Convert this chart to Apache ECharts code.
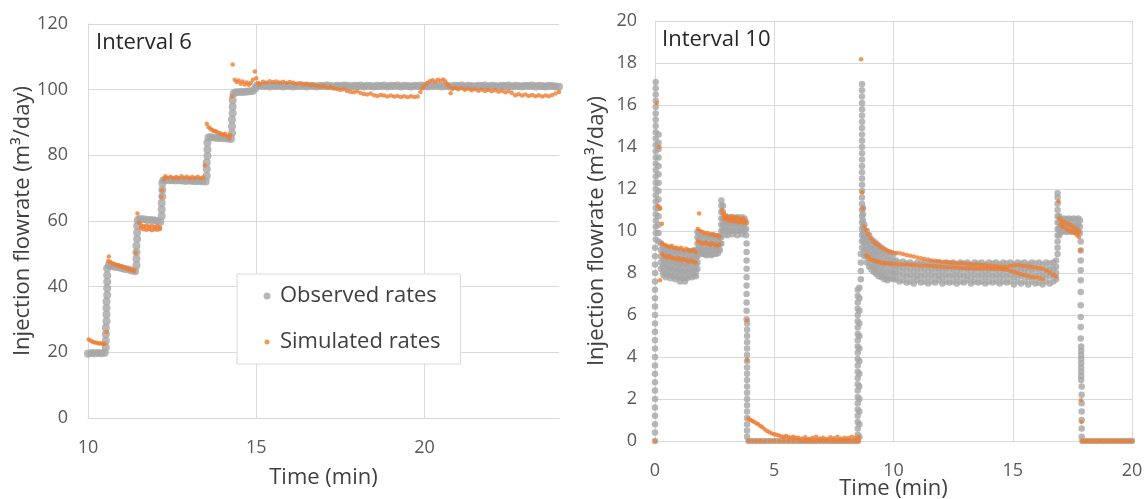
<!DOCTYPE html>
<html><head><meta charset="utf-8">
<script src="https://cdn.jsdelivr.net/npm/echarts@6/dist/echarts.min.js"></script>
<style>html,body{margin:0;padding:0;background:#fff}#c{width:1146px;height:499px}</style>
</head><body><div id="c"></div>
<script>
// Rows: [time, value, value, ...] -> each value is one plotted point at that time.
const titles = ['Interval 6', 'Interval 10'];
const legendNames = ['Observed rates', 'Simulated rates'];
const xTitle = 'Time (min)';
const yTitle = 'Injection flowrate (m³/day)';

// Interval 6 – observed
const obs6 = [
[10.0,19.6],[10.1,19.8],[10.2,19.7],[10.3,19.8],[10.4,19.7],[10.5,19.9],
[10.53,21.5,23.5,25.5,27.5],[10.55,29.5,31.5,33.5,35.5],[10.57,37.5,39.5,41.5,43.5,45.5],
[10.62,46.5],[10.7,46.3],[10.8,46.1],[10.9,45.9],[11.0,45.7],[11.1,45.4],[11.2,45.2],[11.3,44.9],[11.4,44.7],
[11.44,46.5,48.5,50.5,52.5],[11.46,54.5,56.5,58.5],[11.48,60.3],
[11.55,60.6],[11.65,60.5],[11.75,60.4],[11.85,60.3],[11.95,60.2],[12.05,60.0],[12.15,59.7],
[12.19,61.5,63.5,65.5],[12.21,67.5,69.5,71.5],[12.24,72.4],
[12.3,72.5],[12.4,72.4],[12.5,72.4],[12.6,72.3],[12.7,72.4],[12.8,72.3],[12.9,72.2],[13.0,72.3],[13.1,72.2],[13.2,72.1],[13.3,72.2],[13.4,72.1],[13.5,72.0],
[13.53,73.8,75.8,77.8],[13.55,79.8,81.8,83.8],[13.58,85.4],
[13.65,85.5],[13.75,85.4],[13.85,85.3],[13.95,85.3],[14.05,85.2],[14.15,85.1],[14.25,85.0],
[14.28,86.8,88.8,90.8],[14.3,92.8,94.8,96.8],[14.33,98.8],
[14.4,99.2],[14.5,99.3],[14.6,99.3],[14.7,99.4],[14.8,99.5],[14.9,99.6],[14.97,100.4],[15.02,101.2],
[15.1,101.3],[15.2,101.1],[15.3,101.2],[15.4,101.0],[15.5,101.2],[15.6,101.1],[15.7,101.3],[15.8,101.0],[15.9,101.2],[16.0,101.1],
[16.1,101.0],[16.2,101.2],[16.3,101.1],[16.4,101.3],[16.5,101.0],[16.6,101.2],[16.7,101.1],[16.8,101.0],[16.9,101.2],[17.0,101.1],
[17.1,101.3],[17.2,101.1],[17.3,101.0],[17.4,101.2],[17.5,101.1],[17.6,101.3],[17.7,101.2],[17.8,101.0],[17.9,101.2],[18.0,101.1],
[18.1,101.3],[18.2,101.0],[18.3,101.2],[18.4,101.1],[18.5,101.0],[18.6,101.2],[18.7,101.1],[18.8,101.3],[18.9,101.0],[19.0,101.2],
[19.1,101.1],[19.2,101.3],[19.3,101.0],[19.4,101.2],[19.5,101.1],[19.6,101.0],[19.7,101.2],[19.8,101.1],[19.9,101.3],[20.0,101.1],
[20.1,101.0],[20.2,101.2],[20.3,101.1],[20.4,101.3],[20.5,101.0],[20.6,101.2],[20.7,101.1],[20.8,101.0],[20.9,101.2],[21.0,101.1],
[21.1,101.3],[21.2,101.0],[21.3,101.2],[21.4,101.1],[21.5,101.0],[21.6,101.2],[21.7,101.1],[21.8,101.3],[21.9,101.0],[22.0,101.2],
[22.1,101.1],[22.2,101.0],[22.3,101.2],[22.4,101.1],[22.5,101.3],[22.6,101.0],[22.7,101.2],[22.8,101.1],[22.9,101.0],[23.0,101.2],
[23.1,101.1],[23.2,101.3],[23.3,101.0],[23.4,101.2],[23.5,101.1],[23.6,101.0],[23.7,101.2],[23.8,101.1],[23.9,101.0],[24.0,100.9]
];

// Interval 6 – simulated
const sim6 = [
[10.02,23.9],[10.08,23.5],[10.14,23.2],[10.2,23.0],[10.26,22.9],[10.32,22.7],[10.38,22.8],[10.44,22.5],[10.5,22.6],[10.55,26.2],
[10.6,47.8],[10.62,49.2],[10.66,47.5],[10.72,47.1],[10.78,46.9],[10.84,46.6],[10.9,46.5],[10.96,46.2],[11.02,46.0],[11.08,45.8],
[11.14,45.6],[11.2,45.4],[11.26,45.2],[11.32,45.0],[11.38,44.8],[11.42,50.3],[11.47,62.3],
[11.52,59.5],[11.58,58.7,57.8],[11.66,58.4,57.5],[11.74,58.6,57.3],[11.82,58.3,57.6],[11.9,58.5,57.2],[11.98,58.2,57.5],[12.06,58.4,57.3],[12.14,58.0,57.6],
[12.18,67.4],[12.2,69.4],
[12.26,72.8],[12.3,73.6],[12.38,73.2],[12.46,73.5],[12.54,73.0],[12.62,73.4],[12.7,73.1],[12.78,73.6],[12.86,73.2],[12.94,73.5],
[13.02,73.0],[13.1,73.4],[13.18,73.1],[13.26,73.5],[13.34,73.0],[13.42,73.3],[13.47,77.0],
[13.53,89.6],[13.58,88.6],[13.63,88.2],[13.68,87.8],[13.73,87.5],[13.78,87.4],[13.84,87.0],[13.9,86.8],[13.96,86.6],[14.02,86.3],
[14.08,86.6],[14.14,85.8],[14.2,85.3],[14.23,86.2],
[14.27,97.9],[14.3,107.7],
[14.36,103.0],[14.42,102.3],[14.48,102.8],[14.54,101.8],[14.6,102.5],[14.66,101.6],[14.72,102.2],[14.78,101.5],[14.84,102.0],[14.9,103.0],[14.96,105.5],[15.0,103.5],
[15.05,102.0],[15.1,101.6],[15.2,102.4],[15.3,102.2],[15.4,102.6],[15.5,102.3],[15.6,102.5],[15.7,102.2],[15.8,102.4],[15.9,102.0],
[16.0,102.3],[16.1,102.1],[16.2,101.8],[16.3,102.0],[16.4,101.6],[16.5,101.8],[16.6,101.4],[16.7,101.5],[16.8,101.2],[16.9,100.9],
[17.0,101.1],[17.1,100.6],[17.2,100.8],[17.3,100.4],[17.4,100.2],[17.5,99.9],[17.6,100.1],[17.7,99.6],[17.8,99.4],[17.9,99.2],
[18.0,99.5],[18.1,99.0],[18.2,98.7],[18.3,98.5],[18.4,98.8],[18.5,98.3],[18.6,98.1],[18.7,98.4],[18.8,98.2],[18.9,97.9],
[19.0,98.2],[19.1,97.9],[19.2,98.1],[19.3,97.8],[19.4,98.0],[19.5,97.7],[19.6,98.0],[19.7,97.8],[19.8,97.9],[19.88,99.3],
[19.94,100.4],[20.0,101.3],[20.08,102.0],[20.16,102.6],[20.24,102.9],[20.32,102.5],[20.4,103.0],[20.48,102.7],[20.56,103.1],[20.62,102.5],
[20.68,101.6],[20.73,101.0],[20.78,98.9],[20.84,100.3],[20.92,100.6],[21.0,100.1],[21.1,100.4],[21.2,100.0],[21.3,100.3],[21.4,99.8],
[21.5,100.1],[21.6,99.7],[21.7,100.0],[21.8,99.6],[21.9,99.9],[22.0,99.5],[22.1,99.8],[22.2,99.4],[22.3,99.7],[22.4,99.2],
[22.5,99.5],[22.6,99.0],[22.7,98.3],[22.8,98.6],[22.9,98.2],[23.0,98.5],[23.1,98.1],[23.2,98.4],[23.3,98.0],[23.4,98.3],
[23.5,97.9],[23.6,98.2],[23.7,98.0],[23.8,98.4],[23.9,98.8],[24.0,99.3]
];

// Interval 10 – observed
const obs10 = [
[0,0,0.4,0.8,1.2,1.6,2.0,2.4,2.8,3.2,3.6,4.0,4.4,4.8,5.2,5.6,6.0,6.4,6.8,7.2,7.6,8.0,8.4,8.8,9.2],
[0.03,9.6,9.9,10.2,10.5,10.8,11.1,11.4,11.7,12.0,12.3,12.6,12.9,13.2,13.5,13.8,14.1,14.4,14.7,15.0,15.3,15.6,15.9,16.2,16.5,16.8,17.1],
[0.15,14.6,14.2,13.9,13.5,13.1,12.7,12.3,11.9,11.5,11.1,10.7,10.3,9.9,9.5],
[0.25,9.4,9.1,8.8,8.5,8.2],[0.35,9.25,8.95,8.65,8.35,8.05,7.9],[0.45,9.2,8.9,8.6,8.3,8.0,7.8],[0.55,9.1,8.8,8.5,8.2,7.9],
[0.65,9.15,8.85,8.55,8.25,7.95,7.75],[0.75,9.05,8.75,8.45,8.15,7.85],[0.85,9.1,8.8,8.5,8.2,7.9,7.7],[0.95,9.0,8.7,8.4,8.1,7.8],
[1.05,9.05,8.75,8.45,8.15,7.85,7.6],[1.15,8.95,8.65,8.35,8.05,7.75],[1.25,9.0,8.7,8.4,8.1,7.8,7.6],[1.35,8.95,8.65,8.35,8.05,7.75],
[1.45,9.05,8.75,8.45,8.15,7.85],[1.55,9.0,8.7,8.4,8.1,7.8],[1.65,9.1,8.8,8.5,8.2,7.9],[1.72,9.0,8.7,8.4,8.1,7.85],
[1.78,8.2,8.5,8.8,9.1,9.4,9.7,9.95],
[1.85,9.9,9.6,9.3,9.0],[1.95,9.75,9.45,9.15,8.9],[2.05,9.8,9.5,9.2,8.9],[2.15,9.7,9.4,9.1,8.85],[2.25,9.75,9.45,9.15,8.9],
[2.35,9.7,9.4,9.1,8.85],[2.45,9.8,9.5,9.2,8.9],[2.55,9.7,9.4,9.1,8.9],[2.65,9.75,9.45,9.15,8.95],[2.72,9.7,9.4,9.1],
[2.78,9.4,9.7,10.0,10.3,10.6,10.9,11.2,11.45],
[2.85,11.2,10.9,10.6,10.3,10.0],[2.95,10.7,10.4,10.1,9.85],[3.05,10.65,10.35,10.05,9.8],[3.15,10.6,10.3,10.0],[3.25,10.65,10.35,10.05,9.85],
[3.35,10.6,10.3,10.0],[3.45,10.65,10.35,10.05,9.8],[3.55,10.6,10.3,10.0],[3.65,10.65,10.35,10.05,9.85],[3.75,10.6,10.3,10.0],[3.82,10.4,10.1,9.8],
[3.84,9.4,9.0,8.6,8.2,7.8,7.4,7.0,6.6,6.2,5.8],
[3.86,5.6,5.3,5.0,4.7,4.4,4.1,3.8,3.5,3.2,2.9,2.6,2.3,2.0,1.7,1.4,1.1,0.8,0.5,0.2],
[3.92,0],[4.07,0],[4.22,0],[4.37,0],[4.52,0],[4.67,0],[4.82,0],[4.97,0],[5.12,0],[5.27,0],[5.42,0],[5.57,0],[5.72,0],[5.87,0],[6.02,0],[6.17,0],
[6.32,0],[6.47,0],[6.62,0],[6.77,0],[6.92,0],[7.07,0],[7.22,0],[7.37,0],[7.52,0],[7.67,0],[7.82,0],[7.97,0],[8.12,0],[8.27,0],[8.42,0],
[8.5,0,0.3,0.6,0.9,1.2,1.5,1.8,2.1,2.4,2.7,3.0,3.3,3.6,3.9,4.2,4.5,4.8,5.1,5.4,5.7,6.0,6.3,6.6,6.9,7.2],
[8.57,0.2,0.8,1.4,2.0,2.6,3.2,3.8,4.4,5.0,5.6,6.2,6.8,7.3],
[8.63,7.7,8.1,8.5,8.9],
[8.68,9.2,9.5,9.8,10.1,10.4,10.7,11.0,11.3,11.6,11.9,12.2,12.5,12.8,13.1,13.4,13.7,14.0,14.3,14.6,14.9,15.2,15.5,15.8,16.1,16.4,16.7,17.0],
[8.72,9.6,9.9,10.2,10.5,10.8,11.1],
[8.78,10.3,10.0,9.7,9.4,9.1,8.8],[8.88,10.0,9.7,9.4,9.1,8.8,8.5],[8.98,9.8,9.5,9.2,8.9,8.6,8.3],[9.08,9.6,9.3,9.0,8.7,8.4,8.15],
[9.18,9.5,9.2,8.9,8.6,8.3,8.05],[9.28,9.4,9.1,8.8,8.5,8.2,7.95],[9.38,9.3,9.0,8.7,8.4,8.1,7.85],[9.5,9.2,8.9,8.6,8.3,8.0,7.8],
[9.62,9.1,8.8,8.5,8.2,7.9,7.7],[9.75,9.0,8.7,8.4,8.1,7.8,7.65],[9.88,8.95,8.65,8.35,8.05,7.75],[10.0,8.9,8.6,8.3,8.0,7.7],
[10.1,8.6,8.3,8.0,7.7],[10.25,8.5,8.2,7.9,7.6],[10.4,8.55,8.25,7.95,7.65],[10.55,8.45,8.15,7.85,7.55],[10.7,8.5,8.2,7.9,7.6],
[10.85,8.4,8.1,7.8,7.5],[11.0,8.5,8.2,7.9,7.65],[11.15,8.45,8.15,7.85,7.55],[11.3,8.5,8.2,7.9,7.6],[11.45,8.4,8.1,7.8,7.5],
[11.6,8.5,8.2,7.9,7.6],[11.75,8.45,8.15,7.85,7.55],[11.9,8.5,8.2,7.9,7.65],[12.05,8.4,8.1,7.8,7.5],[12.2,8.5,8.2,7.9,7.6],
[12.35,8.45,8.15,7.85,7.55],[12.5,8.5,8.2,7.9,7.6],[12.65,8.4,8.1,7.8,7.5],[12.8,8.5,8.2,7.9,7.6],[12.95,8.45,8.15,7.85,7.55],
[13.1,8.5,8.2,7.9,7.65],[13.25,8.4,8.1,7.8,7.5],[13.4,8.5,8.2,7.9,7.6],[13.55,8.45,8.15,7.85,7.55],[13.7,8.5,8.2,7.9,7.6],
[13.85,8.4,8.1,7.8,7.5],[14.0,8.5,8.2,7.9,7.6],[14.15,8.45,8.15,7.85,7.55],[14.3,8.5,8.2,7.9,7.6],[14.45,8.4,8.1,7.8,7.5],
[14.6,8.5,8.2,7.9,7.6],[14.75,8.45,8.15,7.85,7.55],[14.9,8.5,8.2,7.9,7.6],[15.05,8.4,8.1,7.8,7.45],[15.2,8.5,8.2,7.9,7.6],
[15.35,8.45,8.15,7.85,7.5],[15.5,8.5,8.2,7.9,7.6],[15.65,8.4,8.1,7.8,7.45],[15.8,8.5,8.2,7.9,7.6],[15.95,8.45,8.15,7.85,7.5],
[16.1,8.5,8.2,7.9,7.55],[16.25,8.4,8.1,7.8,7.45],[16.4,8.5,8.2,7.9,7.6],[16.55,8.45,8.15,7.85,7.5],[16.7,8.5,8.2,7.9,7.6],[16.82,8.6,8.3,8.0,7.7],
[16.88,8.9,9.2,9.5,9.8,10.1,10.4,10.7,11.0,11.3,11.6,11.8],
[16.95,10.7,10.4,10.1,9.8],[17.05,10.55,10.25,9.95],[17.15,10.6,10.3,10.0],[17.25,10.55,10.25,9.95],[17.35,10.6,10.3,10.0],
[17.45,10.55,10.25,9.95],[17.55,10.6,10.3,10.0],[17.65,10.55,10.25,9.95],[17.75,10.6,10.3,10.0],[17.82,10.5,10.2,9.9],
[17.85,9.5,9.07,8.6,8.13,7.65,7.1,6.46,5.9,5.43,4.88],
[17.87,4.5,4.3,4.1,3.9,3.7,3.5,3.3,3.1,2.9],
[17.89,2.6,2.2,1.8,1.4,1.0,0.6,0.2],
[17.92,0],[18.07,0],[18.22,0],[18.37,0],[18.52,0],[18.67,0],[18.82,0],[18.97,0],[19.12,0],[19.27,0],[19.42,0],[19.57,0],[19.72,0],[19.87,0],[20.0,0]
];

// Interval 10 – simulated
const sim10 = [
[0,0],[0.07,16.1],[0.18,14.0],[0.12,11.2],[0.22,11.07],[0.29,10.35],[0.21,7.65],
[0.3,9.4,8.9],[0.4,9.35,8.8],[0.5,9.3,8.75],[0.6,9.25,8.8],[0.7,9.3,8.7],[0.8,9.2,8.7],[0.9,9.2,8.65],[1.0,9.15,8.7],
[1.1,9.2,8.6],[1.2,9.1,8.65],[1.3,9.15,8.6],[1.4,9.1,8.55],[1.5,9.05,8.6],[1.6,9.1,8.55],[1.7,9.0,8.5],
[1.8,10.1,9.5],[1.85,10.83],[1.9,10.0,9.45],[2.0,9.95,9.4],[2.1,9.9,9.45],[2.2,9.9,9.4],[2.3,9.85,9.35],[2.4,9.85,9.4],[2.5,9.8,9.35],[2.6,9.8,9.3],[2.7,9.75,9.35],
[2.8,11.0],[2.85,10.85],[2.9,10.75,10.6],[3.0,10.7,10.55],[3.1,10.65,10.5],[3.2,10.7,10.5],[3.3,10.6,10.45],[3.4,10.65,10.5],[3.5,10.6,10.4],[3.6,10.55,10.45],[3.7,10.6,10.4],[3.8,10.5,10.4],
[3.86,5.75,3.87],
[3.92,1.07,0],[4.0,1.0],[4.08,0.97,0],[4.16,0.9],[4.25,0.85,0],[4.33,0.8],[4.42,0.72,0],[4.5,0.65],[4.6,0.56,0],[4.7,0.48],
[4.8,0.42,0],[4.9,0.36],[5.0,0.32,0],[5.1,0.3],[5.2,0.26,0],[5.3,0.22],[5.4,0.2,0],[5.5,0.24],[5.6,0.18,0],[5.7,0.15],
[5.8,0.2,0],[5.9,0.14],[6.0,0.16,0],[6.15,0.12,0],[6.3,0.18,0],[6.45,0.1,0],[6.6,0.15,0],[6.75,0.2,0],[6.9,0.12,0],[7.05,0.16,0],
[7.2,0.1,0],[7.35,0.18,0],[7.5,0.13,0],[7.65,0.2,0],[7.8,0.12,0],[7.95,0.16,0],[8.1,0.14,0],[8.25,0.2,0],[8.4,0.15,0],[8.55,0.18,0],
[8.64,18.18],[8.68,11.83],[8.72,11.07],[8.78,10.2],
[8.85,10.05,8.85],[8.95,9.85,8.75],[9.05,9.65,8.65],[9.15,9.5,8.6],[9.25,9.42,8.56],[9.35,9.35,8.53],[9.45,9.25,8.5],[9.55,9.18,8.48],
[9.65,9.12,8.47],[9.75,9.06,8.46],[9.85,9.02,8.45],[9.95,8.98,8.44],[10.1,8.95,8.43],[10.25,8.94,8.42],[10.4,8.9,8.41],[10.55,8.86,8.4],
[10.7,8.82,8.39],[10.85,8.78,8.38],[11.0,8.74,8.37],[11.15,8.7,8.36],[11.3,8.67,8.35],[11.45,8.64,8.34],[11.6,8.6,8.33],[11.75,8.58,8.32],
[11.9,8.56,8.31],[12.05,8.54,8.3],[12.2,8.52,8.29],[12.35,8.5,8.28],[12.5,8.49,8.27],[12.65,8.47,8.26],[12.8,8.46,8.25],[12.95,8.45,8.24],
[13.1,8.44,8.24],[13.25,8.42,8.23],[13.4,8.41,8.23],[13.55,8.39,8.22],[13.7,8.38,8.22],[13.85,8.36,8.21],[14.0,8.35,8.21],[14.15,8.34,8.2],
[14.3,8.32,8.2],[14.45,8.31,8.19],[14.6,8.3,8.18],[14.75,8.3,8.15],[14.9,8.33,8.1],[15.05,8.36,8.05],[15.2,8.37,8.0],[15.35,8.35,7.95],
[15.5,8.33,7.9],[15.65,8.31,7.85],[15.8,8.29,7.8],[15.95,8.27,7.77],[16.1,8.24,7.74],[16.25,8.2,7.7],[16.4,8.12],[16.55,8.02],[16.7,7.92],[16.83,7.82],
[16.92,11.4],[16.95,10.6],[17.0,10.55,10.3],[17.1,10.45,10.2],[17.2,10.4,10.15],[17.3,10.35,10.05],[17.4,10.3,10.0],[17.5,10.2,9.95],
[17.6,10.15,9.9],[17.7,10.05,9.8],[17.78,9.95,9.72],[17.84,9.1],[17.86,1.94],[17.88,0.9],
[17.9,0],[18.0,0],[18.1,0],[18.2,0],[18.3,0],[18.4,0],[18.5,0],[18.6,0],[18.7,0],[18.8,0],[18.9,0],
[19.0,0],[19.1,0],[19.2,0],[19.3,0],[19.4,0],[19.5,0],[19.6,0],[19.7,0],[19.8,0],[19.9,0],[20.0,0]
];

function toPoints(rows) {
  const out = [];
  rows.forEach(r => { for (let i = 1; i < r.length; i++) out.push([r[0], r[i]]); });
  return out;
}

const FONT = "'Open Sans', 'DejaVu Sans', sans-serif";
const GRAY = '#a5a5a5', ORANGE = '#ed7d31', GRID = '#d9d9d9';
const tickLabel = { fontFamily: FONT, fontSize: 18, color: '#595959' };
const nameStyle = { fontFamily: FONT, fontSize: 22, color: '#404040' };

function xAxis(grid, min, max, gap, hideMax) {
  return {
    gridIndex: grid, type: 'value', min: min, max: max, interval: 5,
    name: xTitle, nameLocation: 'middle', nameGap: gap, nameTextStyle: nameStyle, nameMoveOverlap: false,
    axisLine: { show: true, lineStyle: { color: GRID, width: 1 } },
    axisTick: { show: false },
    axisLabel: Object.assign({ margin: 21, showMaxLabel: !hideMax,
      formatter: v => (v % 5 === 0 ? String(v) : '') }, tickLabel),
    splitLine: { show: true, showMaxLine: !hideMax, lineStyle: { color: GRID, width: 1 } }
  };
}
function yAxis(grid, max, interval, gap, margin) {
  return {
    gridIndex: grid, type: 'value', min: 0, max: max, interval: interval,
    name: yTitle, nameLocation: 'middle', nameGap: gap, nameTextStyle: nameStyle, nameMoveOverlap: false,
    axisLine: { show: true, lineStyle: { color: GRID, width: 1 } },
    axisTick: { show: false },
    axisLabel: Object.assign({ margin: margin }, tickLabel),
    splitLine: { show: true, lineStyle: { color: GRID, width: 1 } }
  };
}

const chart = echarts.init(document.getElementById('c'), null, { renderer: 'canvas' });
chart.setOption({
  animation: false,
  backgroundColor: '#fff',
  title: [
    { text: titles[0], left: 96, top: 32, padding: 0,
      textStyle: { fontFamily: FONT, fontSize: 22, fontWeight: 'normal', color: '#262626' } },
    { text: titles[1], left: 662, top: 29, padding: 0,
      textStyle: { fontFamily: FONT, fontSize: 22, fontWeight: 'normal', color: '#262626' } }
  ],
  legend: {
    orient: 'vertical', left: 237, top: 274,
    padding: [11, 20, 11, 22], itemGap: 24, itemWidth: 16, itemHeight: 16,
    backgroundColor: '#fff', borderColor: GRID, borderWidth: 1, borderRadius: 0,
    selectedMode: false,
    textStyle: { fontFamily: FONT, fontSize: 22, color: '#404040' },
    data: [
      { name: legendNames[0], icon: 'path://M0,0M16,16M8,4.5A3.5,3.5,0,1,1,8,11.5A3.5,3.5,0,1,1,8,4.5Z' },
      { name: legendNames[1], icon: 'path://M0,0M16,16M8,5.5A2.5,2.5,0,1,1,8,10.5A2.5,2.5,0,1,1,8,5.5Z' }
    ]
  },
  grid: [
    { left: 88, top: 24, width: 471, height: 394, containLabel: false, outerBoundsMode: 'none' },
    { left: 655, top: 21, width: 477, height: 420, containLabel: false, outerBoundsMode: 'none' }
  ],
  xAxis: [ xAxis(0, 10, 24, 49, true), xAxis(1, 0, 20, 37, false) ],
  yAxis: [ yAxis(0, 120, 20, 54, 20), yAxis(1, 20, 2, 47, 18) ],
  series: [
    { type: 'scatter', name: legendNames[0], xAxisIndex: 0, yAxisIndex: 0, data: toPoints(obs6),
      symbolSize: 8, itemStyle: { color: GRAY }, silent: true, z: 2 },
    { type: 'scatter', name: legendNames[1], xAxisIndex: 0, yAxisIndex: 0, data: toPoints(sim6),
      symbolSize: 4.5, itemStyle: { color: ORANGE }, silent: true, z: 3 },
    { type: 'scatter', name: legendNames[0], xAxisIndex: 1, yAxisIndex: 1, data: toPoints(obs10),
      symbolSize: 6.5, itemStyle: { color: GRAY }, silent: true, z: 2 },
    { type: 'scatter', name: legendNames[1], xAxisIndex: 1, yAxisIndex: 1, data: toPoints(sim10),
      symbolSize: 4.5, itemStyle: { color: ORANGE }, silent: true, z: 3 }
  ]
});
</script>
</body></html>
